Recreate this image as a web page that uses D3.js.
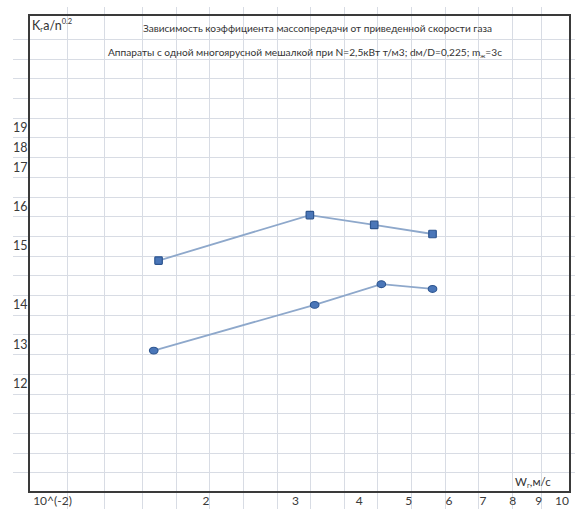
<!DOCTYPE html>
<html>
<head>
<meta charset="utf-8">
<script src="https://cdn.jsdelivr.net/npm/d3@7"></script>
<style>
  html, body { margin: 0; padding: 0; background: #fff; }
  svg { display: block; font-family: Lato, "Open Sans", sans-serif; }
</style>
</head>
<body>
<div id="chart"></div>
<script>
// x: W_г in 10^-2 m/s (log axis), y: K_г a / n^0.2
const xTicks = [1, 2, 3, 4, 5, 6, 7, 8, 9, 10];
const xTickLabels = ["10^(-2)", "2", "3", "4", "5", "6", "7", "8", "9", "10"];
const yTicks = [12, 13, 14, 15, 16, 17, 18, 19];

const squareX = [1.615, 3.2, 4.28, 5.57];
const squareY = [14.75, 15.78, 15.53, 15.3];
const circleX = [1.58, 3.27, 4.42, 5.57];
const circleY = [12.84, 14.0, 14.35, 14.27];

// sheet rows in which the y labels were typed (layout, not data)
const yTickRows = [18, 16, 14, 11, 9, 7, 6, 5];

const width = 575, height = 509;
const frame = { left: 29, top: 15, right: 570, bottom: 492 };

const svg = d3.select("#chart").append("svg")
    .attr("width", width)
    .attr("height", height)
    .attr("viewBox", `0 0 ${width} ${height}`);

// spreadsheet grid
const colX = d3.scaleLinear().domain([0, 3, 14, 16]).range([frame.left, 142, 512, frame.right]);
const rowY = d3.scaleLinear().domain([1, 24]).range([39, frame.bottom]);

const grid = svg.append("g").attr("stroke", "#d8dce4").attr("stroke-width", 1);
grid.selectAll("line.h")
    .data(d3.range(1, 24))
    .join("line")
    .attr("class", "h")
    .attr("x1", 13).attr("x2", width)
    .attr("y1", (d) => Math.round(rowY(d)) + 0.5)
    .attr("y2", (d) => Math.round(rowY(d)) + 0.5);
grid.selectAll("line.v")
    .data(d3.range(1, 16))
    .join("line")
    .attr("class", "v")
    .attr("y1", 7).attr("y2", height)
    .attr("x1", (d) => Math.round(colX(d)) + 0.5)
    .attr("x2", (d) => Math.round(colX(d)) + 0.5);

// frame
svg.append("rect")
    .attr("x", frame.left).attr("y", frame.top)
    .attr("width", frame.right - frame.left)
    .attr("height", frame.bottom - frame.top)
    .attr("fill", "none")
    .attr("stroke", "#3a3a3a")
    .attr("stroke-width", 2);

// scales
const x = d3.scaleLog().domain([1, 10]).range([52.5, 562]);
const y = d3.scaleLinear()
    .domain(yTicks)
    .range(yTickRows.map((r) => rowY(r + 0.5)));

// axis labels
svg.append("g")
    .selectAll("text")
    .data(yTicks)
    .join("text")
    .attr("x", 13)
    .attr("y", (d) => y(d) + 4.5)
    .attr("font-size", 12.5)
    .attr("fill", "#3a3a3a")
    .text((d) => d);

svg.append("g")
    .selectAll("text")
    .data(xTicks)
    .join("text")
    .attr("x", (d) => x(d))
    .attr("y", 505)
    .attr("text-anchor", "middle")
    .attr("font-size", 12)
    .attr("fill", "#3a3a3a")
    .text((d, i) => xTickLabels[i]);

// titles
const yTitle = svg.append("text")
    .attr("x", 32).attr("y", 29.5)
    .attr("font-size", 12.5)
    .attr("fill", "#333");
yTitle.append("tspan").text("K");
yTitle.append("tspan").attr("font-size", 7).attr("dy", 2).text("г");
yTitle.append("tspan").attr("dy", -2).text("a/n");
yTitle.append("tspan").attr("font-size", 7.5).attr("dy", -6).text("0.2");

svg.append("text")
    .attr("x", 143).attr("y", 32)
    .attr("font-size", 9.5)
    .attr("fill", "#333")
    .attr("textLength", 349)
    .attr("lengthAdjust", "spacingAndGlyphs")
    .text("Зависимость коэффициента массопередачи от приведенной скорости газа");

const sub = svg.append("text")
    .attr("x", 108).attr("y", 56)
    .attr("font-size", 9.5)
    .attr("fill", "#333")
    .attr("textLength", 394)
    .attr("lengthAdjust", "spacingAndGlyphs");
sub.append("tspan").text("Аппараты с одной многоярусной мешалкой при N=2,5кВт т/м3; dм/D=0,225; m");
sub.append("tspan").attr("font-size", 6).attr("dy", 1.5).text("ж");
sub.append("tspan").attr("dy", -1.5).text("=3с");

const xTitle = svg.append("text")
    .attr("x", 515).attr("y", 486)
    .attr("font-size", 11.5)
    .attr("fill", "#333");
xTitle.append("tspan").text("W");
xTitle.append("tspan").attr("font-size", 7).attr("dy", 2).text("г");
xTitle.append("tspan").attr("dy", -2).text(",м/с");

// series
const line = d3.line()
    .x((d) => x(d[0]))
    .y((d) => y(d[1]));

const squares = squareX.map((v, i) => [v, squareY[i]]);
const circles = circleX.map((v, i) => [v, circleY[i]]);

[squares, circles].forEach((pts) => {
    svg.append("path")
        .datum(pts)
        .attr("fill", "none")
        .attr("stroke", "#8ea8cb")
        .attr("stroke-width", 1.8)
        .attr("d", line);
});

svg.append("g")
    .selectAll("rect")
    .data(squares)
    .join("rect")
    .attr("x", (d) => x(d[0]) - 3.75)
    .attr("y", (d) => y(d[1]) - 3.75)
    .attr("width", 7.5)
    .attr("height", 7.5)
    .attr("rx", 0.8)
    .attr("fill", "#4a76b8")
    .attr("stroke", "#2d558f")
    .attr("stroke-width", 1.2);

svg.append("g")
    .selectAll("ellipse")
    .data(circles)
    .join("ellipse")
    .attr("cx", (d) => x(d[0]))
    .attr("cy", (d) => y(d[1]))
    .attr("rx", 4.3)
    .attr("ry", 3.4)
    .attr("fill", "#4a76b8")
    .attr("stroke", "#2d558f")
    .attr("stroke-width", 1.1);
</script>
</body>
</html>
